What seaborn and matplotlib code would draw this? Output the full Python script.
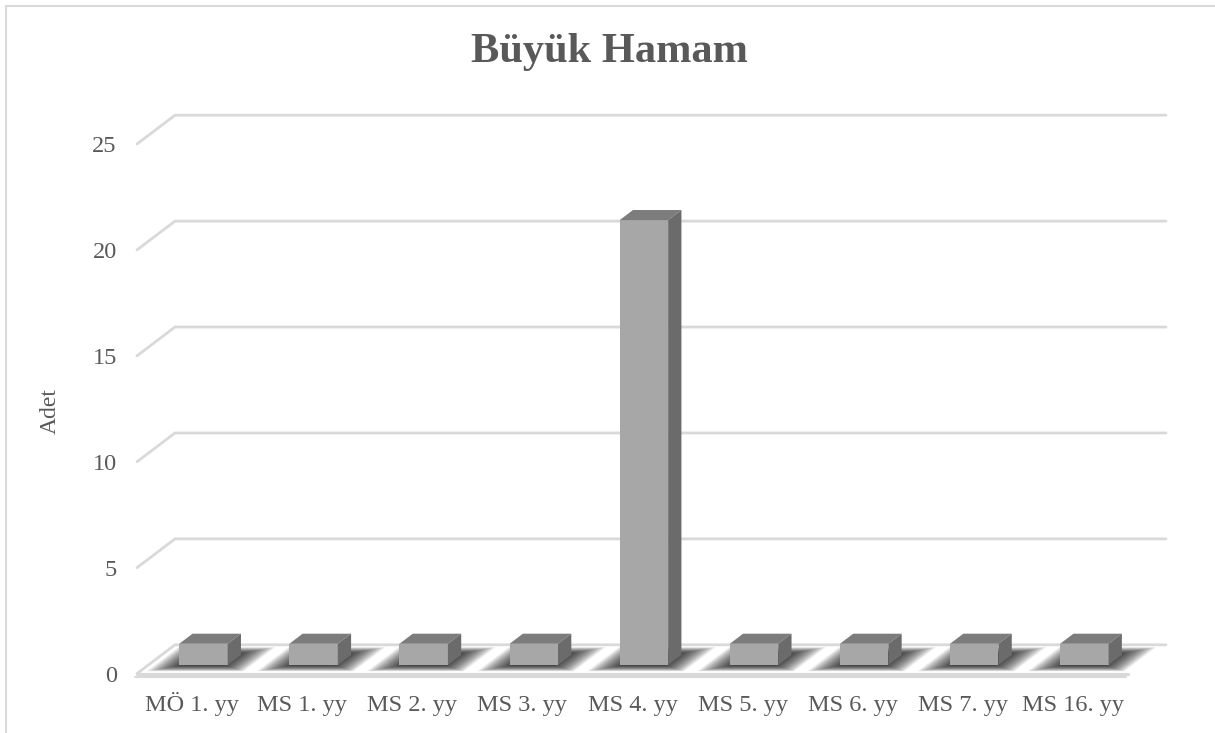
import matplotlib
matplotlib.use("Agg")
import matplotlib.pyplot as plt
import matplotlib.transforms as mtransforms
from matplotlib.patches import Polygon, Rectangle
from matplotlib.lines import Line2D
import seaborn as sns

# ---- data ----
categories = ["MÖ 1. yy", "MS 1. yy", "MS 2. yy", "MS 3. yy", "MS 4. yy",
              "MS 5. yy", "MS 6. yy", "MS 7. yy", "MS 16. yy"]
values = [1, 1, 1, 1, 21, 1, 1, 1, 1]
y_ticks = [0, 5, 10, 15, 20, 25]
title = "Büyük Hamam"
y_label = "Adet"

# ---- style ----
sns.set_style("white")
plt.rcParams["font.family"] = ["Liberation Serif", "DejaVu Serif"]
TXT = "#595959"
GRID = "#d9d9d9"
FRONT, TOP, SIDE = "#a7a7a7", "#7c7c7c", "#6b6b6b"

W, H, DPI = 1215, 733, 100
fig = plt.figure(figsize=(W / DPI, H / DPI), dpi=DPI)
fig.patch.set_facecolor("white")

# front plane of the pseudo-3D box (pixel measurements)
left_px, right_px = 137, 1128
bottom_px, top_px = 673.6, 144
ax = fig.add_axes([left_px / W, (H - bottom_px) / H,
                   (right_px - left_px) / W, (bottom_px - top_px) / H])

DX, DY = 38.0, 28.8           # depth offset of the back wall in pixels
F0, F1 = 0.30, 0.65           # depth range of the bars

sns.barplot(x=categories, y=values, color=FRONT, saturation=1, width=0.44,
            ax=ax, zorder=3)
ax.set_xlim(-0.5, len(categories) - 0.5)
ax.set_ylim(0, 25)

ident = mtransforms.IdentityTransform()


def P(x, y, f):
    px, py = ax.transData.transform((x, y))
    return (px + DX * f, py + DY * f)


def line(pts, **kw):
    ax.add_line(Line2D([p[0] for p in pts], [p[1] for p in pts],
                       transform=ident, clip_on=False, **kw))


# ---- back wall gridlines + left diagonals ----
xa, xb = -0.5, len(categories) - 0.5
for t in y_ticks:
    line([P(xa, t, 0), P(xa, t, 1), P(xb, t, 1)], color=GRID, lw=2,
         zorder=0.5, solid_joinstyle="miter")

# ---- floor slab ----
line([P(xa, 0, 0), P(xb, 0, 0)], color=GRID, lw=2.2, zorder=0.6)
f0p, f1p = P(xa, 0, 0), P(xb, 0, 0)
line([(f0p[0] - 2, f0p[1] - 3), (f1p[0] - 2, f1p[1] - 3)], color=GRID,
     lw=1.5, zorder=0.6)

# ---- blurred floor shadows ----
n_layers = 20
for c in range(len(categories)):
    for k in range(n_layers):
        s = k / (n_layers - 1)
        hw = 0.44 - 0.24 * s
        fa = 0.08 + 0.20 * s
        fb = 0.92 - 0.22 * s
        poly = [P(c - hw, 0, fa), P(c + hw, 0, fa), P(c + hw, 0, fb), P(c - hw, 0, fb)]
        ax.add_patch(Polygon(poly, closed=True, transform=ident, facecolor="black",
                             edgecolor="none", alpha=0.06, zorder=0.7, clip_on=False))

# ---- bars: move front faces back and add top/side faces ----
bar_tr = mtransforms.offset_copy(ax.transData, fig=fig, x=DX * F0, y=DY * F0,
                                 units="dots")
for p in list(ax.patches):
    if p.get_zorder() != 3:
        continue
    p.set_transform(bar_tr)
    p.set_clip_on(False)
    p.set_edgecolor("none")
    x0, w, h = p.get_x(), p.get_width(), p.get_height()
    top = [P(x0, h, F0), P(x0 + w, h, F0), P(x0 + w, h, F1), P(x0, h, F1)]
    side = [P(x0 + w, 0, F0), P(x0 + w, h, F0), P(x0 + w, h, F1), P(x0 + w, 0, F1)]
    ax.add_patch(Polygon(top, closed=True, transform=ident, facecolor=TOP,
                         edgecolor="none", zorder=3, clip_on=False))
    ax.add_patch(Polygon(side, closed=True, transform=ident, facecolor=SIDE,
                         edgecolor="none", zorder=3, clip_on=False))

# ---- axes decorations ----
for sp in ax.spines.values():
    sp.set_visible(False)
ax.patch.set_alpha(0)
ax.set_yticks(y_ticks)
ax.set_yticklabels([str(t) for t in y_ticks])
ax.tick_params(axis="y", length=0, pad=14.5, labelsize=17.5, labelcolor=TXT)
ax.tick_params(axis="x", length=0, pad=27, labelsize=17.5, labelcolor=TXT)
for lab in ax.get_xticklabels():
    lab.set_verticalalignment("baseline")
ax.set_xlabel("")
ax.set_ylabel("")

fig.text(50 / W, 1 - 411 / H, y_label, rotation=90, ha="center", va="center",
         fontsize=17, color=TXT)
fig.text(609 / W, 1 - 52 / H, title, ha="center", va="center",
         fontsize=30.5, fontweight="bold", color=TXT)

# chart border (top and left visible)
fig.add_artist(Rectangle((6 / W, -0.05), 1.1, 1.05 - 6 / H,
                         transform=fig.transFigure, fill=False,
                         edgecolor=GRID, lw=1.5))

fig.savefig("out.png", dpi=DPI, facecolor="white")
